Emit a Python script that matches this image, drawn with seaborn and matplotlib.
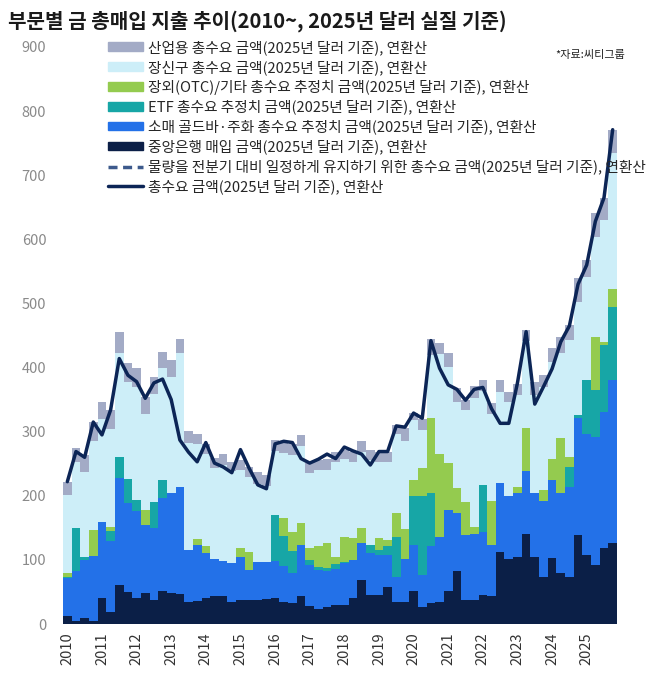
import numpy as np
import pandas as pd
import seaborn as sns
import matplotlib.pyplot as plt
from matplotlib.patches import Patch
from matplotlib.lines import Line2D

sns.set_theme(style='white')
plt.rcParams['font.family'] = ['Noto Sans CJK KR', 'DejaVu Sans']

# quarterly values, 2010 Q1 .. 2025 Q4 (bn USD, 2025 real, annualised)
years = [str(y) for y in range(2010, 2026)]
central_bank = [12, 4, 9, 4, 40, 19, 61, 50, 41, 49, 38, 51, 49, 47, 34, 36,
                41, 43, 43, 35, 37, 37, 38, 39, 41, 35, 32, 44, 28, 24, 27, 29,
                30, 40, 68, 45, 45, 57, 35, 35, 51, 27, 32, 35, 52, 82, 38, 37,
                45, 44, 113, 102, 104, 140, 105, 74, 103, 79, 74, 139, 108, 92, 118, 127]
retail_bar_coin = [59, 79, 91, 102, 119, 110, 166, 139, 135, 105, 111, 146, 156, 167, 81, 87,
                   69, 58, 55, 60, 67, 47, 59, 58, 57, 55, 48, 79, 64, 61, 55, 57,
                   65, 60, 59, 65, 63, 51, 39, 67, 72, 49, 89, 100, 126, 91, 101, 103,
                   99, 79, 107, 97, 100, 99, 100, 118, 122, 125, 140, 182, 189, 200, 213, 254]
etf = [3, 66, 4, 0, 0, 16, 34, 37, 17, 0, 42, 27, 0, 0, 0, 0,
       0, 0, 0, 0, 0, 0, 0, 0, 72, 47, 34, 0, 8, 4, 5, 8,
       2, 0, 0, 13, 7, 13, 61, 0, 76, 123, 84, 0, 0, 0, 0, 0,
       73, 0, 0, 0, 0, 0, 0, 0, 0, 0, 31, 5, 84, 73, 104, 114]
otc_other = [5, 0, 0, 41, 0, 6, 0, 0, 0, 24, 0, 0, 0, 0, 0, 10,
             12, 0, 0, 0, 14, 29, 0, 0, 0, 29, 29, 34, 19, 32, 39, 10,
             39, 34, 22, 0, 19, 10, 38, 46, 26, 44, 116, 130, 73, 39, 52, 12,
             0, 69, 0, 0, 10, 66, 0, 17, 33, 86, 16, 0, 0, 82, 5, 27]
jewellery = [122, 104, 133, 139, 161, 153, 161, 152, 177, 149, 167, 176, 181, 208, 167, 147,
             143, 142, 150, 143, 122, 116, 122, 119, 100, 101, 121, 120, 116, 119, 114, 149,
             122, 119, 119, 133, 119, 122, 123, 138, 93, 60, 99, 156, 150, 135, 143, 200,
             147, 135, 142, 147, 143, 136, 152, 160, 151, 133, 182, 176, 160, 157, 190, 213]
industrial = [21, 22, 27, 29, 27, 30, 34, 29, 29, 27, 27, 25, 26, 23, 19, 17,
              16, 16, 17, 15, 16, 16, 18, 16, 17, 18, 16, 18, 16, 16, 18, 16,
              13, 16, 17, 15, 16, 16, 14, 20, 11, 17, 24, 17, 21, 21, 16, 19,
              16, 18, 19, 16, 17, 18, 20, 19, 21, 24, 23, 38, 27, 37, 35, 36]
total_demand = [222, 269, 260, 315, 295, 334, 414, 388, 378, 352, 376, 382, 350, 287, 268, 253,
                283, 251, 245, 236, 272, 243, 217, 211, 281, 285, 283, 258, 251, 257, 265, 258,
                276, 270, 265, 248, 269, 269, 309, 307, 329, 321, 442, 399, 373, 366, 349, 366,
                369, 336, 313, 313, 376, 456, 343, 370, 398, 440, 465, 530, 560, 628, 665, 771]

layers = ['중앙은행', '소매', 'ETF', '장외', '장신구', '산업용']
df = pd.DataFrame({'중앙은행': central_bank, '소매': retail_bar_coin, 'ETF': etf,
                   '장외': otc_other, '장신구': jewellery, '산업용': industrial})
df['q'] = np.arange(len(df))
cum = df[layers].cumsum(axis=1)

colors = {'중앙은행': '#0b1f47', '소매': '#2371e8', 'ETF': '#17a6a6',
          '장외': '#94cb4f', '장신구': '#cdeef8', '산업용': '#a3abc6'}
line_color = '#0c2556'

fig = plt.figure(figsize=(6.49, 6.81), dpi=100)
ax = fig.add_axes([63 / 649, 57 / 681, 554 / 649, 577 / 681])

# draw the stack from the top layer down so each bar covers the one above
for name in layers[::-1]:
    sns.barplot(x=df['q'], y=cum[name], color=colors[name], width=1.0,
                saturation=1, linewidth=0, errorbar=None, ax=ax)

sns.lineplot(x=df['q'], y=total_demand, color=line_color, linewidth=2.5, ax=ax)

ax.set_xlim(-0.5, len(df) - 0.5)
ax.set_ylim(0, 900)
ax.set_yticks(range(0, 901, 100))
ax.set_xticks(np.arange(0, len(df), 4))
ax.set_xticklabels(years, rotation=90, fontsize=10.5, color='#333333')
ax.tick_params(axis='y', labelsize=10.5, labelcolor='#8a8a8a', length=0, pad=12)
ax.tick_params(axis='x', length=0, pad=6)
ax.set_xlabel('')
ax.set_ylabel('')
for s in ax.spines.values():
    s.set_visible(False)

handles = [
    Patch(color=colors['산업용']),
    Patch(color=colors['장신구']),
    Patch(color=colors['장외']),
    Patch(color=colors['ETF']),
    Patch(color=colors['소매']),
    Patch(color=colors['중앙은행']),
    Line2D([], [], color='#3d5a8c', linewidth=2.5, linestyle=(0, (2.6, 1.6))),
    Line2D([], [], color=line_color, linewidth=2.5),
]
labels = [
    '산업용 총수요 금액(2025년 달러 기준), 연환산',
    '장신구 총수요 금액(2025년 달러 기준), 연환산',
    '장외(OTC)/기타 총수요 추정치 금액(2025년 달러 기준), 연환산',
    'ETF 총수요 추정치 금액(2025년 달러 기준), 연환산',
    '소매 골드바·주화 총수요 추정치 금액(2025년 달러 기준), 연환산',
    '중앙은행 매입 금액(2025년 달러 기준), 연환산',
    '물량을 전분기 대비 일정하게 유지하기 위한 총수요 금액(2025년 달러 기준), 연환산',
    '총수요 금액(2025년 달러 기준), 연환산',
]
fig.legend(handles, labels, loc='upper left', bbox_to_anchor=(108 / 649, 1 - 40 / 681),
           frameon=False, fontsize=10.6, handlelength=2.4, handleheight=0.5,
           handletextpad=0.3, labelspacing=0.34, borderpad=0, borderaxespad=0)

fig.text(8 / 649, 1 - 21 / 681, '부문별 금 총매입 지출 추이(2010~, 2025년 달러 실질 기준)',
         fontsize=14.5, fontweight='bold', color='#1a1a1a', va='center', ha='left')
fig.text(625 / 649, 1 - 55 / 681, '*자료:씨티그룹', fontsize=8, color='#222222',
         va='center', ha='right')

fig.savefig('out.png', dpi=100)
